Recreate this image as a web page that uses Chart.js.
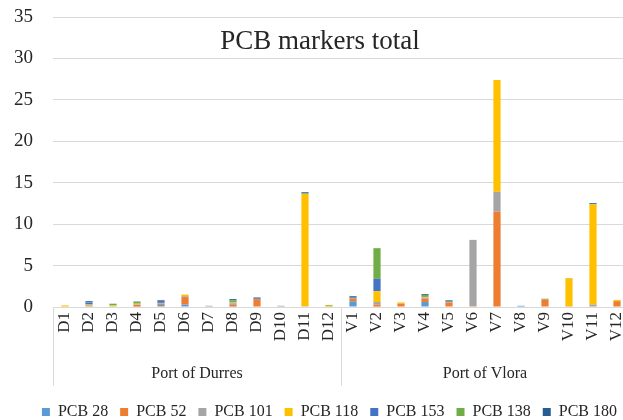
<!DOCTYPE html>
<html>
<head>
<meta charset="utf-8">
<script src="https://cdn.jsdelivr.net/npm/chart.js@4.4.1/dist/chart.umd.min.js"></script>
<style>
  html, body { margin: 0; padding: 0; background: #fff; overflow: hidden; }
  #wrap { width: 629px; height: 420px; }
</style>
</head>
<body>
<div id="wrap"><canvas id="chart" width="629" height="420"></canvas></div>
<script>
// ===== Data =====
const sites = ["D1", "D2", "D3", "D4", "D5", "D6", "D7", "D8", "D9", "D10", "D11", "D12",
               "V1", "V2", "V3", "V4", "V5", "V6", "V7", "V8", "V9", "V10", "V11", "V12"];
const groups = ["Port of Durres", "Port of Vlora"];
const groupSizes = [12, 12];
const yTicks = [0, 5, 10, 15, 20, 25, 30, 35];

const pcb28  = [0, 0.1, 0, 0.05, 0.25, 0.3, 0, 0.05, 0, 0, 0, 0,
                0.7, 0.05, 0, 0.6, 0, 0, 0, 0.15, 0, 0, 0, 0];
const pcb52  = [0, 0.05, 0, 0.2, 0.15, 0.9, 0, 0.2, 0.95, 0, 0, 0.05,
                0.35, 0.25, 0.4, 0.4, 0.55, 0.1, 11.5, 0, 0.9, 0.1, 0.1, 0.7];
const pcb101 = [0, 0.05, 0.1, 0.05, 0.1, 0.1, 0.15, 0.2, 0, 0.15, 0.1, 0,
                0.05, 0.3, 0, 0.1, 0.05, 8.0, 2.4, 0, 0, 0, 0.2, 0];
const pcb118 = [0.2, 0.1, 0.1, 0.1, 0, 0.2, 0, 0.1, 0, 0, 13.55, 0.1,
                0, 1.3, 0.15, 0.1, 0, 0, 13.5, 0, 0, 3.35, 12.1, 0.15];
const pcb153 = [0, 0.25, 0, 0, 0.3, 0, 0, 0.05, 0.1, 0, 0, 0,
                0.1, 1.5, 0, 0.05, 0, 0, 0, 0, 0, 0, 0.05, 0];
const pcb138 = [0, 0.05, 0.2, 0.2, 0, 0, 0, 0.2, 0, 0, 0.05, 0.1,
                0, 3.7, 0, 0.2, 0.05, 0, 0, 0, 0.1, 0.05, 0, 0];
const pcb180 = [0, 0.1, 0, 0.05, 0.05, 0, 0, 0.15, 0.1, 0, 0.15, 0,
                0.1, 0, 0, 0.1, 0.15, 0, 0, 0, 0, 0, 0.1, 0];

const serif = "'Liberation Serif', 'Times New Roman', serif";
const textColor = "#262626";
const lineColor = "#d9d9d9";

// ===== Title + grouped axis labels =====
const extras = {
  id: "extras",
  afterDraw(chart) {
    const ctx = chart.ctx;
    const x = chart.scales.x;
    const area = chart.chartArea;
    const bottom = area.bottom + 79;
    ctx.save();
    ctx.strokeStyle = lineColor;
    ctx.lineWidth = 1;
    // group boundaries
    let start = 0;
    const edges = [x.left];
    groupSizes.forEach(n => {
      const last = start + n - 1;
      const right = last < sites.length - 1
        ? (x.getPixelForValue(last) + x.getPixelForValue(last + 1)) / 2
        : x.right;
      edges.push(right);
      start += n;
    });
    edges.forEach(px => {
      ctx.beginPath();
      ctx.moveTo(Math.round(px) + 0.5, area.bottom);
      ctx.lineTo(Math.round(px) + 0.5, bottom);
      ctx.stroke();
    });
    // group names
    ctx.fillStyle = textColor;
    ctx.font = "16px " + serif;
    ctx.textAlign = "center";
    ctx.textBaseline = "middle";
    start = 0;
    groupSizes.forEach((n, i) => {
      const cx = (x.getPixelForValue(start) + x.getPixelForValue(start + n - 1)) / 2;
      ctx.fillText(groups[i], cx, area.bottom + 67);
      start += n;
    });
    // title sits over the plot like in Excel
    ctx.font = "27px " + serif;
    ctx.fillText("PCB markers total", 320, 42);
    ctx.restore();
  }
};

function ds(label, data, color) {
  return { label, data, backgroundColor: color, borderWidth: 0,
           barPercentage: 0.3, categoryPercentage: 1 };
}

new Chart(document.getElementById("chart"), {
  type: "bar",
  data: {
    labels: sites,
    datasets: [
      ds("PCB 28", pcb28, "#5B9BD5"),
      ds("PCB 52", pcb52, "#ED7D31"),
      ds("PCB 101", pcb101, "#A5A5A5"),
      ds("PCB 118", pcb118, "#FFC000"),
      ds("PCB 153", pcb153, "#4472C4"),
      ds("PCB 138", pcb138, "#70AD47"),
      ds("PCB 180", pcb180, "#255E91")
    ]
  },
  options: {
    responsive: false,
    animation: false,
    layout: { padding: { top: 17, left: 0, right: 0, bottom: -10 } },
    plugins: {
      legend: {
        position: "bottom",
        align: "end",
        labels: {
          color: textColor,
          font: { family: serif, size: 16 },
          boxWidth: 8, boxHeight: 8, padding: 12
        }
      },
      tooltip: { enabled: false },
      title: { display: false }
    },
    scales: {
      x: {
        stacked: true,
        grid: { display: false, drawTicks: false },
        border: { display: true, color: lineColor },
        ticks: {
          color: textColor,
          font: { family: serif, size: 17 },
          minRotation: 90, maxRotation: 90,
          autoSkip: false, padding: 5
        },
        afterFit(scale) {
          scale.height = 85;
          scale.paddingLeft = 0;
          scale.paddingRight = 0;
        }
      },
      y: {
        stacked: true,
        min: 0, max: 35,
        afterBuildTicks(scale) { scale.ticks = yTicks.map(v => ({ value: v })); },
        grid: { color: lineColor, drawTicks: false },
        border: { display: false },
        ticks: {
          color: textColor,
          font: { family: serif, size: 19 },
          padding: 20
        },
        afterFit(scale) {
          scale.width = 53;
          scale.paddingTop = 0;
          scale.paddingBottom = 0;
        }
      }
    }
  },
  plugins: [extras]
});
</script>
</body>
</html>
